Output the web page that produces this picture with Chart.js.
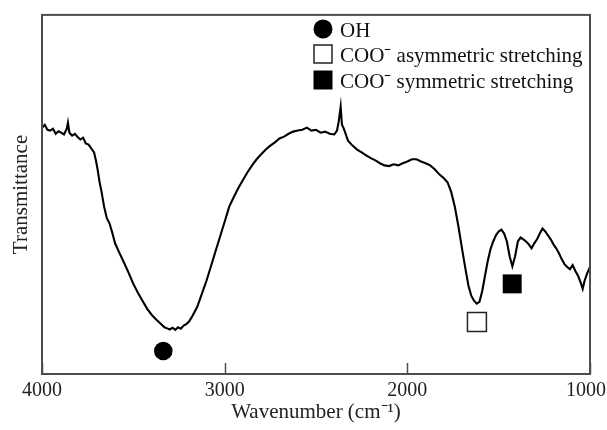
<!DOCTYPE html>
<html><head><meta charset="utf-8">
<script src="https://cdn.jsdelivr.net/npm/chart.js@4.4.1/dist/chart.umd.min.js"></script>
<style>html,body{margin:0;padding:0;background:#fff}canvas{display:block}</style>
</head><body>
<canvas id="c" width="607" height="430"></canvas>
<script>
const wavenumbers = [4000,3985,3970,3955,3940,3925,3910,3895,3880,3865,3858,3850,3835,3820,3805,3790,3775,3760,3745,3730,3715,3705,3695,3685,3675,3660,3645,3630,3615,3600,3575,3550,3525,3500,3475,3450,3425,3400,3375,3350,3330,3315,3300,3285,3270,3255,3240,3225,3210,3195,3175,3150,3125,3100,3075,3050,3025,3000,2975,2950,2925,2900,2875,2850,2825,2800,2775,2750,2725,2700,2675,2650,2625,2600,2575,2550,2525,2500,2475,2450,2425,2400,2385,2375,2365,2358,2350,2340,2325,2300,2275,2250,2225,2200,2175,2150,2125,2100,2075,2050,2025,2000,1975,1950,1925,1900,1875,1850,1825,1800,1780,1760,1740,1720,1700,1680,1665,1650,1635,1620,1605,1590,1575,1560,1545,1530,1515,1500,1485,1470,1455,1440,1425,1410,1395,1380,1365,1350,1335,1320,1305,1290,1275,1260,1245,1230,1215,1200,1185,1170,1155,1140,1125,1110,1095,1080,1065,1050,1040,1030,1015,1000];
const transmittance = [68.6,69.4,68.0,67.8,68.3,66.9,67.6,67.2,66.7,68.2,70.0,67.2,66.4,66.9,66.0,65.3,65.8,64.2,63.9,62.8,61.7,59.5,56.8,53.5,51.0,46.6,43.4,41.9,39.3,36.4,33.6,30.9,28.1,25.1,22.6,20.4,18.2,16.5,15.2,14.0,13.0,12.7,12.4,12.9,12.3,13.0,12.6,13.5,13.9,14.6,16.3,18.7,22.3,25.9,30.0,34.2,38.3,42.4,46.6,49.3,51.8,54.0,56.2,58.1,59.8,61.2,62.5,63.6,64.5,65.6,66.1,66.9,67.5,67.8,68.0,68.6,67.8,68.0,67.2,67.5,66.9,66.7,67.8,70.5,74.4,69.4,68.6,67.2,65.0,63.6,62.5,61.7,60.9,60.1,59.5,58.7,58.1,57.9,58.4,58.1,58.7,59.2,59.8,59.8,59.2,58.7,58.1,57.0,55.6,54.5,53.4,50.7,46.6,41.0,34.7,28.7,24.5,21.8,20.4,19.6,20.1,23.1,27.3,31.4,34.7,36.9,38.6,39.7,40.2,39.1,36.9,32.8,30.0,32.8,36.9,38.0,37.5,36.9,36.1,35.0,36.4,37.5,39.1,40.5,39.7,38.6,37.5,36.1,35.0,33.6,32.0,30.6,29.8,29.2,30.3,28.7,27.3,25.3,23.7,25.9,28.1,29.8];
const xTicks = [4000, 3000, 2000, 1000];
const markerLabels = ['OH', 'COO\u207B asymmetric stretching', 'COO\u207B symmetric stretching'];
const markerX = [3336, 1619, 1426];
const markerY = [6.4, 14.5, 25.1];

const FONT = '"Liberation Serif", "Times New Roman", serif';
Chart.defaults.font.family = FONT;
Chart.defaults.color = '#222';

const markerStyles = [
  {pointStyle: 'circle', radius: 9.3, bg: '#000', border: '#000', bw: 0},
  {pointStyle: 'rect', radius: 13.4, bg: '#fff', border: '#222', bw: 1.5},
  {pointStyle: 'rect', radius: 13.4, bg: '#000', border: '#000', bw: 0}
];

const datasets = [{
  label: 'Spectrum',
  data: wavenumbers.map((w, i) => ({x: w, y: transmittance[i]})),
  borderColor: '#000', borderWidth: 2.1, pointRadius: 0, tension: 0, fill: false
}];
markerLabels.forEach((lab, i) => {
  const s = markerStyles[i];
  datasets.push({
    label: lab, type: 'scatter', showLine: false,
    data: [{x: markerX[i], y: markerY[i]}],
    pointStyle: s.pointStyle, pointRadius: s.radius, pointHoverRadius: s.radius,
    pointBackgroundColor: s.bg, pointBorderColor: s.border, pointBorderWidth: s.bw
  });
});

const framePlugin = {
  id: 'frame',
  beforeDraw(chart) {
    // keep the last tick label inside the canvas
    const x = chart.scales.x;
    const items = x.getLabelItems();
    items.forEach(it => {
      const tx = it.options.translation[0];
      if (tx > chart.width - 30) {
        it.options.textAlign = 'right';
        it.options.translation = [chart.width - 1, it.options.translation[1]];
      }
    });
  },
  afterDraw(chart) {
    const {ctx, chartArea: a, scales: {x}} = chart;
    ctx.save();
    ctx.strokeStyle = '#4d4d4d';
    ctx.lineWidth = 2;
    ctx.strokeRect(a.left, a.top, a.right - a.left, a.bottom - a.top);
    ctx.lineWidth = 1.5;
    x.ticks.forEach(t => {
      const px = Math.round(x.getPixelForValue(t.value)) + 0.5;
      ctx.beginPath(); ctx.moveTo(px, a.bottom); ctx.lineTo(px, a.bottom - 11); ctx.stroke();
    });
    // legend
    const lx = 323, rows = [29, 54, 80], tx = 340;
    chart.data.datasets.slice(1).forEach((ds, i) => {
      const y = rows[i];
      const s = markerStyles[i];
      ctx.fillStyle = s.bg; ctx.strokeStyle = s.border; ctx.lineWidth = 1.5;
      if (s.pointStyle === 'circle') {
        ctx.beginPath(); ctx.arc(lx, y, 9.5, 0, Math.PI * 2); ctx.fill();
      } else {
        ctx.fillRect(lx - 9.5, y - 9.5, 19, 19);
        if (s.bw) ctx.strokeRect(lx - 9, y - 9, 18, 18);
      }
      ctx.fillStyle = '#111';
      ctx.font = '21px ' + FONT;
      ctx.textBaseline = 'middle';
      ctx.textAlign = 'left';
      ctx.fillText(ds.label, tx, y + 2);
    });
    ctx.restore();
  }
};

new Chart(document.getElementById('c'), {
  type: 'line',
  data: {datasets},
  plugins: [framePlugin],
  options: {
    responsive: false, animation: false,
    layout: {padding: {top: 11, right: 17, left: 0, bottom: 0}},
    plugins: {legend: {display: false}, tooltip: {enabled: false}},
    scales: {
      x: {
        type: 'linear', reverse: true, min: 1000, max: 4000,
        afterBuildTicks: s => { s.ticks = xTicks.map(v => ({value: v})); },
        afterFit: s => { s.height = 56; s.paddingLeft = 0; s.paddingRight = 0; },
        grid: {display: false, drawTicks: false},
        border: {display: false},
        ticks: {font: {size: 20}, color: '#222', padding: 5, maxRotation: 0, callback: v => String(v)},
        title: {display: true, text: 'Wavenumber (cm\u207B\u00B9)', font: {size: 21}, color: '#222', padding: {top: 0, bottom: 5}}
      },
      y: {
        min: 0, max: 100,
        afterFit: s => { s.width = 42; },
        grid: {display: false, drawTicks: false},
        border: {display: false},
        ticks: {display: false},
        title: {display: true, text: 'Transmittance', font: {size: 21}, color: '#222', padding: {top: 9, bottom: 0}}
      }
    }
  }
});
</script>
</body></html>
